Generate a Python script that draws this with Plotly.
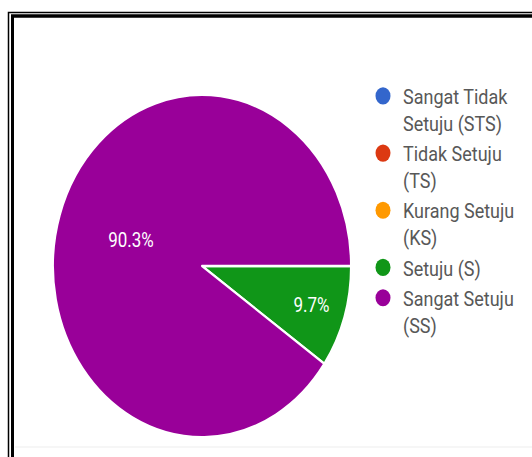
import plotly.graph_objects as go

# ---- data ----
categories = ["Sangat Tidak<br>Setuju (STS)", "Tidak Setuju<br>(TS)", "Kurang Setuju<br>(KS)",
              "Setuju (S)", "Sangat Setuju<br>(SS)"]
counts = [0, 0, 0, 3, 28]
colors = ["#3366cc", "#dc3912", "#ff9900", "#109618", "#990099"]

# ---- layout constants (unstretched page, later stretched vertically) ----
W, H_REF = 532, 457
S = 1.1482
H = round(H_REF / S)

def fx(px):
    return px / W

def fy(py_ref):
    return 1 - (py_ref / S) / H

cx, cy_ref, r = 202, 266, 149
cy = cy_ref / S

fig = go.Figure()
fig.add_trace(go.Pie(
    labels=categories, values=counts, marker=dict(colors=colors, line=dict(color="white", width=2)),
    sort=False, direction="clockwise", rotation=90,
    texttemplate=["" if v == 0 else "%{percent:.1%}" for v in counts],
    textposition="inside", insidetextorientation="horizontal",
    textfont=dict(family="Roboto", size=17, color="white"),
    showlegend=False, hoverinfo="label+percent",
    domain=dict(x=[(cx - r) / W, (cx + r) / W], y=[1 - (cy + r) / H, 1 - (cy - r) / H]),
))
for name, col in zip(categories, colors):
    fig.add_trace(go.Scatter(x=[None], y=[None], mode="markers", name=name,
                             marker=dict(color=col, size=15, symbol="circle")))

shapes = [
    dict(type="rect", xref="paper", yref="paper", x0=fx(8.5), x1=1.1, y0=-0.1, y1=fy(12.5),
         line=dict(color="black", width=1.5), fillcolor="rgba(0,0,0,0)"),
    dict(type="rect", xref="paper", yref="paper", x0=fx(12.5), x1=1.1, y0=-0.1, y1=fy(16),
         line=dict(color="black", width=3), fillcolor="rgba(0,0,0,0)"),
    dict(type="line", xref="paper", yref="paper", x0=fx(15), x1=1, y0=fy(447), y1=fy(447),
         line=dict(color="#eeeeee", width=1)),
]

fig.update_layout(
    width=W, height=H, margin=dict(l=0, r=0, t=0, b=0),
    paper_bgcolor="white", plot_bgcolor="white",
    xaxis=dict(visible=False), yaxis=dict(visible=False),
    shapes=shapes,
    legend=dict(x=fx(363), y=fy(75), xanchor="left", yanchor="top", valign="top",
                font=dict(family="Roboto", size=18, color="#585858"),
                bgcolor="rgba(0,0,0,0)", tracegroupgap=0),
    font=dict(family="Roboto"),
)

post = """
var gd = document.getElementById('{plot_id}');
document.body.style.margin = '0';
gd.style.transformOrigin = '0 0';
gd.style.transform = 'scaleY(%f)';
""" % S

fig.write_html("out.html", config={"displayModeBar": False}, post_script=post)
